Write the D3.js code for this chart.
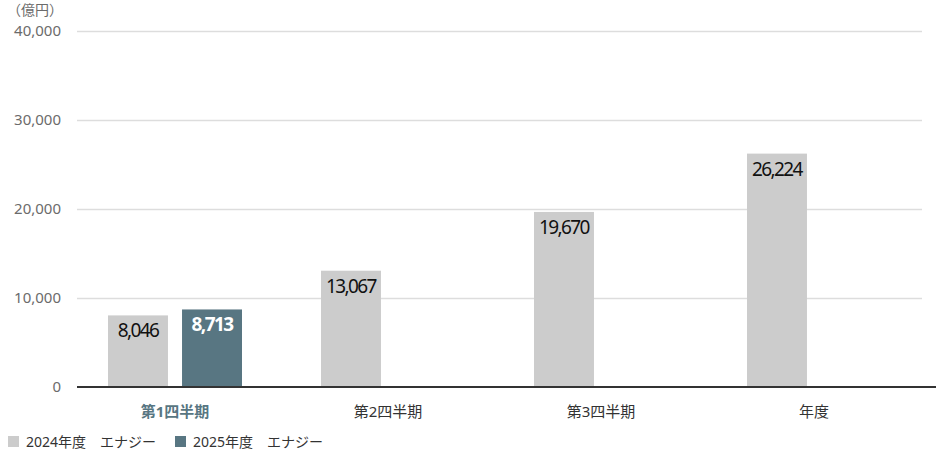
<!DOCTYPE html>
<html>
<head>
<meta charset="utf-8">
<script src="https://cdn.jsdelivr.net/npm/d3@7"></script>
<style>
  body { margin: 0; background: #fff; }
  text { font-family: "Noto Sans", "Noto Sans CJK JP", sans-serif; }
</style>
</head>
<body>
<div class="chart"></div>
<script>
const categories = ['第1四半期', '第2四半期', '第3四半期', '年度']
const series = ['2024年度　エナジー', '2025年度　エナジー']
const values2024 = [8046, 13067, 19670, 26224]
const values2025 = [8713, null, null, null]
const yTicks = [0, 10000, 20000, 30000, 40000]
const unitLabel = '（億円）'

const colors = ['#cccccc', '#587682']

const width = 936
const height = 456

const svg = d3.select('.chart')
.append('svg')
.attr('width', width)
.attr('height', height)

const y = d3.scaleLinear()
.domain([0, 40000])
.range([387, 31])

const x0 = d3.scaleBand()
.domain(categories)
.range([68.5, 920.5])

const x1 = d3.scaleBand()
.domain(series)
.range([39.5, 173.5])
.paddingInner(0.19)

// grid
svg.append('g')
.selectAll('line')
.data(yTicks.filter(d => d > 0))
.enter()
.append('line')
.attr('x1', 77)
.attr('x2', 922)
.attr('y1', d => Math.round(y(d)) + 0.5)
.attr('y2', d => Math.round(y(d)) + 0.5)
.style('stroke', '#dddddd')
.style('stroke-width', 1.5)

// y axis labels
const yAxis = svg.append('g')
.attr('transform', 'translate(61,0)')
.call(d3.axisLeft(y).tickValues(yTicks).tickSize(0).tickPadding(0).tickFormat(d3.format(',')))
yAxis.select('.domain').remove()
yAxis.selectAll('text')
.style('font-size', '15px')
.style('fill', '#6b6b6b')
.style('font-family', '"Noto Sans", sans-serif')

svg.append('text')
.attr('x', 7)
.attr('y', 15)
.text(unitLabel)
.style('font-size', '14px')
.style('fill', '#6b6b6b')

// bars
const rows = categories.map((c, i) => ({
  cat: c,
  vals: [values2024[i], values2025[i]]
}))

const groups = svg.append('g')
.selectAll('g')
.data(rows)
.enter()
.append('g')
.attr('transform', d => `translate(${x0(d.cat)},0)`)

const items = groups.selectAll('g')
.data(d => d.vals.map((v, j) => ({ v, s: series[j], j })).filter(e => e.v != null))
.enter()
.append('g')

items.append('rect')
.attr('x', d => x1(d.s))
.attr('width', x1.bandwidth())
.attr('y', d => y(d.v))
.attr('height', d => y(0) - y(d.v))
.style('fill', d => colors[d.j])

items.append('text')
.attr('x', d => x1(d.s) + x1.bandwidth() / 2)
.attr('y', d => y(d.v) + 22)
.attr('text-anchor', 'middle')
.text(d => d3.format(',')(d.v))
.style('font-size', '19px')
.style('letter-spacing', '-1.6px')
.style('font-weight', d => d.j === 1 ? 700 : 400)
.style('fill', d => d.j === 1 ? '#fff' : '#111')

// x axis
svg.append('line')
.attr('x1', 77)
.attr('x2', width)
.attr('y1', y(0))
.attr('y2', y(0))
.style('stroke', '#333')
.style('stroke-width', 2)

svg.append('g')
.selectAll('text')
.data(categories)
.enter()
.append('text')
.attr('x', d => x0(d) + x0.bandwidth() / 2)
.attr('y', 417)
.attr('text-anchor', 'middle')
.text(d => d)
.style('font-size', '15px')
.style('font-weight', (d, i) => i === 0 ? 700 : 400)
.style('fill', (d, i) => i === 0 ? '#587682' : '#333')

// legend
const legendX = [8, 175]
const legend = svg.append('g')
.selectAll('g')
.data(series)
.enter()
.append('g')
.attr('transform', (d, i) => `translate(${legendX[i]},436)`)

legend.append('rect')
.attr('width', 11)
.attr('height', 11)
.style('fill', (d, i) => colors[i])

legend.append('text')
.attr('x', 18)
.attr('y', 11)
.text(d => d)
.style('font-size', '14px')
.style('fill', '#333')
</script>
</body>
</html>
